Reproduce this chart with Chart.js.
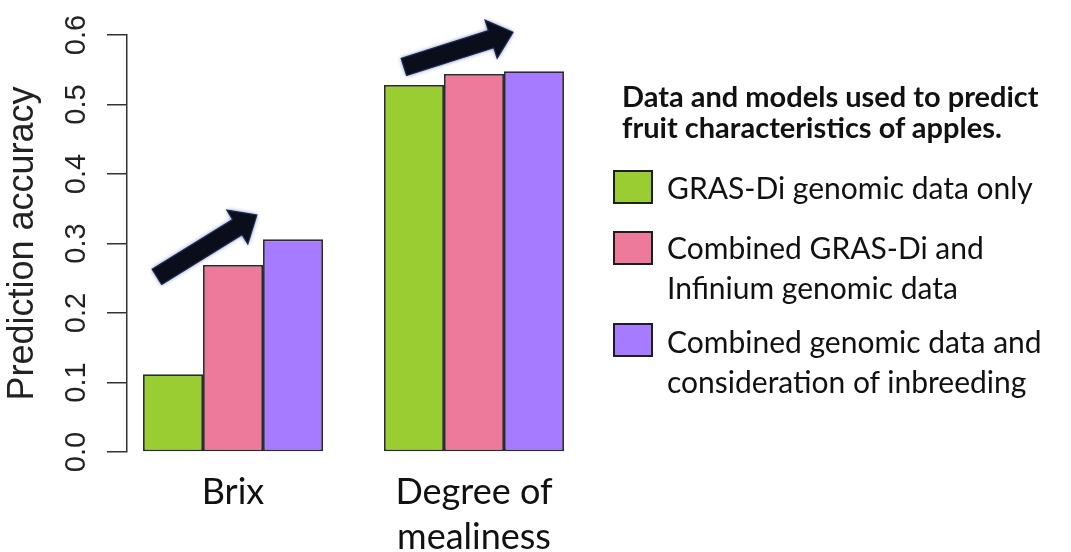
<!DOCTYPE html>
<html>
<head>
<meta charset="utf-8">
<script src="https://cdn.jsdelivr.net/npm/chart.js@4.4.1/dist/chart.umd.min.js"></script>
<style>
  html, body { margin: 0; padding: 0; background: #ffffff; }
  #wrap { position: relative; width: 1071px; height: 552px; overflow: hidden; background: #ffffff; }
  #chart { position: absolute; left: 0; top: 0; }
  .lg-title { position: absolute; left: 622px; top: 80px; font-family: Lato, "Open Sans", sans-serif; font-weight: 700; font-size: 29px; line-height: 31px; color: #111; white-space: nowrap; }
  .lg-box { position: absolute; left: 613px; width: 40px; height: 34px; box-sizing: border-box; border: 2.5px solid #1e1e1e; }
  .lg-text { position: absolute; left: 667px; font-family: Lato, "Open Sans", sans-serif; font-size: 30px; line-height: 40px; color: #111; white-space: nowrap; }
</style>
</head>
<body>
<div id="wrap">
  <canvas id="chart" width="1071" height="552"></canvas>
  <div id="legend"></div>
</div>
<script>
// ---- data ----
const categories = ['Brix', 'Degree of mealiness'];
const xTickLabels = [['Brix'], ['Degree of', 'mealiness']];
const seriesNames = [
  'GRAS-Di genomic data only',
  'Combined GRAS-Di and Infinium genomic data',
  'Combined genomic data and consideration of inbreeding'
];
const legendLines = [
  ['GRAS-Di genomic data only'],
  ['Combined GRAS-Di and', 'Infinium genomic data'],
  ['Combined genomic data and', 'consideration of inbreeding']
];
const legendTitle = ['Data and models used to predict', 'fruit characteristics of apples.'];
const grasDiOnly = [0.112, 0.528];
const combinedInfinium = [0.269, 0.544];
const combinedInbreeding = [0.306, 0.548];
const yTickValues = [0.0, 0.1, 0.2, 0.3, 0.4, 0.5, 0.6];
const yTitle = 'Prediction accuracy';
const seriesColors = ['#9ACD32', '#EE7A9B', '#A77BFF'];
// trend arrows (annotation, in data units)
const arrowFrom = [{x: -0.316, y: 0.252}, {x: 0.709, y: 0.554}];
const arrowTo = [{x: 0.099, y: 0.341}, {x: 1.162, y: 0.604}];

const seriesValues = [grasDiOnly, combinedInfinium, combinedInbreeding];

const arrowPlugin = {
  id: 'trendArrows',
  afterDatasetsDraw(chart) {
    const {ctx, scales: {x, y}} = chart;
    ctx.save();
    for (let i = 0; i < arrowFrom.length; i++) {
      const x0 = x.getPixelForValue(arrowFrom[i].x), y0 = y.getPixelForValue(arrowFrom[i].y);
      const x1 = x.getPixelForValue(arrowTo[i].x), y1 = y.getPixelForValue(arrowTo[i].y);
      const dx = x1 - x0, dy = y1 - y0, len = Math.hypot(dx, dy);
      const ux = dx / len, uy = dy / len, nx = -uy, ny = ux;
      const sh = 9, hh = 20, hl = 23;
      const bx = x1 - ux * hl, by = y1 - uy * hl;
      ctx.beginPath();
      ctx.moveTo(x0 + nx * sh, y0 + ny * sh);
      ctx.lineTo(bx + nx * sh, by + ny * sh);
      ctx.lineTo(bx + nx * hh, by + ny * hh);
      ctx.lineTo(x1, y1);
      ctx.lineTo(bx - nx * hh, by - ny * hh);
      ctx.lineTo(bx - nx * sh, by - ny * sh);
      ctx.lineTo(x0 - nx * sh, y0 - ny * sh);
      ctx.closePath();
      ctx.shadowColor = 'rgba(40,60,130,0.7)';
      ctx.shadowBlur = 4;
      ctx.fillStyle = '#0a0e1a';
      ctx.fill();
      ctx.shadowBlur = 0;
      ctx.lineWidth = 1.2;
      ctx.strokeStyle = '#1b2a55';
      ctx.stroke();
    }
    ctx.restore();
  }
};

const chart = new Chart(document.getElementById('chart'), {
  type: 'bar',
  data: {
    datasets: seriesValues.map((vals, k) => ({
      label: seriesNames[k],
      data: vals.map((v, i) => ({x: i, y: v})),
      backgroundColor: seriesColors[k],
      borderColor: '#2b2b2b',
      borderWidth: 1.8,
      borderSkipped: false,
      barPercentage: 1.0,
      categoryPercentage: 0.747
    }))
  },
  options: {
    responsive: false,
    animation: false,
    devicePixelRatio: 1,
    layout: { padding: { top: 35, right: 491, bottom: 0, left: 0 } },
    plugins: { legend: { display: false }, tooltip: { enabled: false } },
    scales: {
      x: {
        type: 'linear',
        offset: false,
        min: -0.44,
        max: 1.44,
        bounds: 'data',
        afterBuildTicks: s => { s.ticks = categories.map((c, i) => ({value: i})); },
        afterFit: s => { s.height = 100; },
        grid: { display: false, drawTicks: false, offset: false },
        border: { display: false },
        ticks: {
          autoSkip: false,
          maxRotation: 0,
          padding: 18,
          color: '#111',
          font: { family: 'Lato', size: 36, lineHeight: 1.25 },
          callback: (v, i) => xTickLabels[i]
        }
      },
      y: {
        min: 0,
        max: 0.6,
        afterBuildTicks: s => { s.ticks = yTickValues.map(v => ({value: v})); },
        afterFit: s => { s.width = 127; },
        grid: { drawOnChartArea: false, drawTicks: true, tickLength: 20, color: '#333', lineWidth: 1.5 },
        border: { display: true, color: '#333', width: 1.5 },
        ticks: {
          minRotation: 90,
          maxRotation: 90,
          crossAlign: 'center',
          padding: 10,
          color: '#222',
          font: { family: 'Liberation Sans', size: 29 },
          callback: v => Number(v).toFixed(1)
        },
        title: {
          display: true,
          text: yTitle,
          color: '#222',
          padding: { top: 5, bottom: 0 },
          font: { family: 'Liberation Sans', size: 36, lineHeight: 1.0 }
        }
      }
    }
  },
  plugins: [arrowPlugin]
});

// HTML legend built from the chart's datasets
(function buildLegend() {
  const lg = document.getElementById('legend');
  const t = document.createElement('div');
  t.className = 'lg-title';
  t.innerHTML = legendTitle.join('<br>');
  lg.appendChild(t);
  const boxTops = [170, 231, 323];
  const textTops = [167, 227, 321];
  chart.data.datasets.forEach((ds, k) => {
    const b = document.createElement('div');
    b.className = 'lg-box';
    b.style.top = boxTops[k] + 'px';
    b.style.background = ds.backgroundColor;
    lg.appendChild(b);
    const tx = document.createElement('div');
    tx.className = 'lg-text';
    tx.style.top = textTops[k] + 'px';
    legendLines[k].forEach((line, j) => {
      if (j) tx.appendChild(document.createElement('br'));
      tx.appendChild(document.createTextNode(line));
    });
    lg.appendChild(tx);
  });
})();
</script>
</body>
</html>
